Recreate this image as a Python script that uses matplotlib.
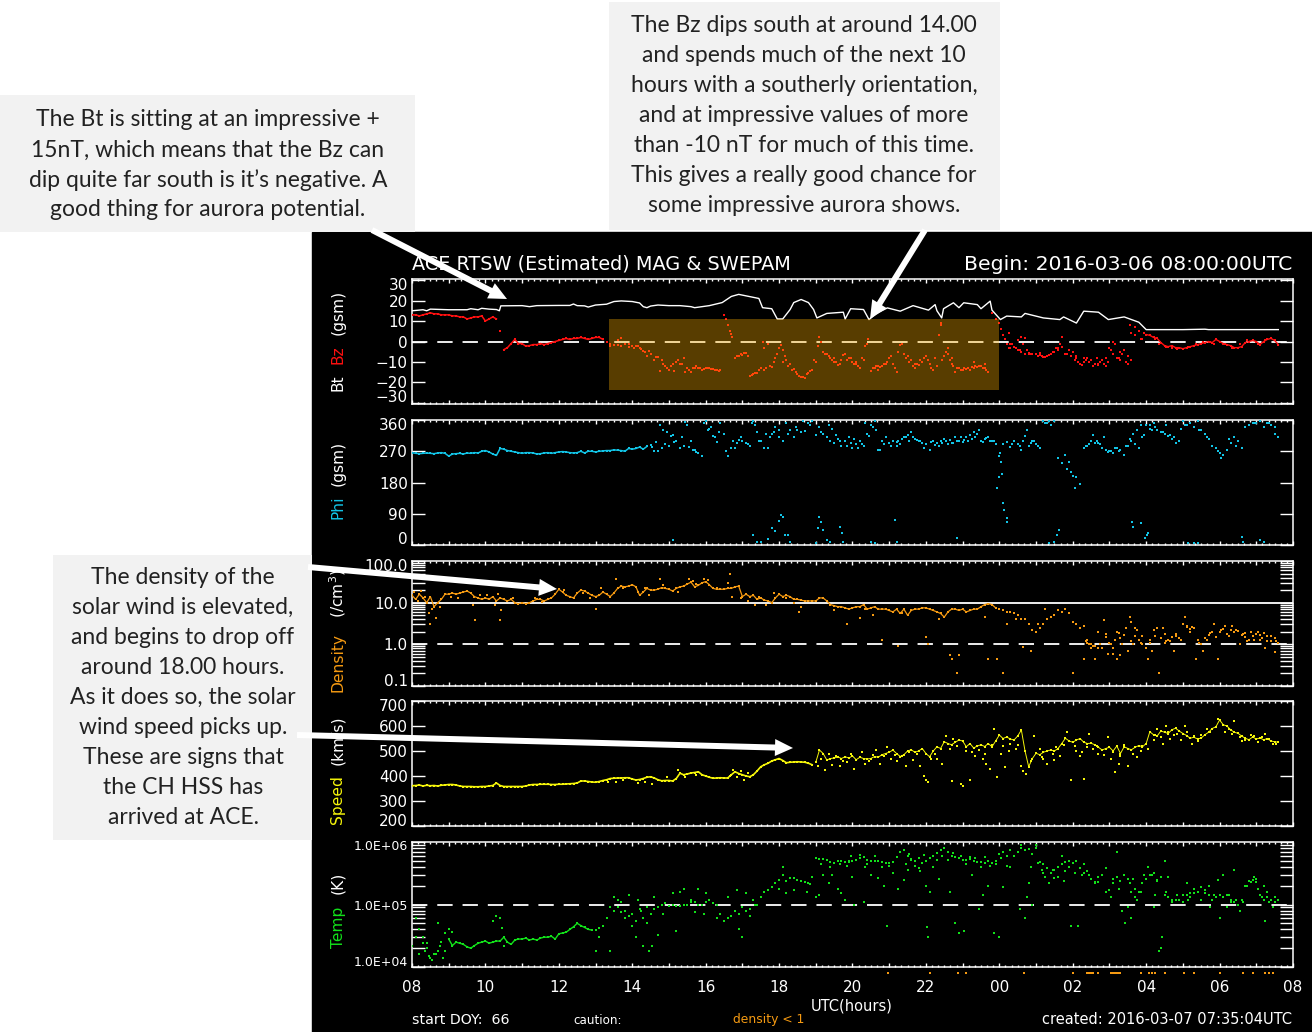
import numpy as np
import matplotlib
matplotlib.use('Agg')
import matplotlib.pyplot as plt
from matplotlib.patches import Rectangle, FancyArrow
from matplotlib.ticker import NullFormatter
from matplotlib.transforms import ScaledTranslation

W, H = 1312, 1032

# hand read values, 6 minute cadence from 08:00 (hours run on past 24)
bt_t = [8, 8.3, 8.4, 8.5, 9, 9.5, 9.6, 9.8, 9.9, 10, 10.1, 10.3, 10.38, 10.42, 11, 11.2, 11.4, 12, 12.3, 12.4, 12.5, 12.7, 12.8,
        13, 13.3, 13.5, 13.7, 14, 14.2, 14.3, 14.4, 14.5, 14.7, 15, 15.3, 15.6, 15.7, 15.9, 16.1, 16.45, 16.7, 16.9, 17.45,
        17.55, 17.8, 17.95, 18.1, 18.3, 18.4, 18.6, 18.8, 18.94, 19.03, 19.3, 19.75, 19.8, 19.95, 20.3, 20.45, 20.65, 20.95,
        21.3, 21.65, 22.07, 22.25, 22.3, 22.43, 22.48, 22.75, 22.9, 23.03, 23.4, 23.5, 23.75, 23.8, 24.03, 24.2, 24.6, 24.7,
        25.2, 25.65, 25.75, 26.1, 26.3, 26.7, 26.97, 27.4, 27.8, 28, 29, 29.6, 29.7, 30.5, 31.6]
bt_v = [15, 15.5, 15, 15.8, 15.5, 15.5, 16, 15.5, 16.2, 16, 15.8, 15.6, 15, 17.4, 17.5, 17, 17.5, 17.6, 17.6, 18.3, 17.5, 17.4, 16.8,
        17.8, 18.2, 19.5, 19.8, 19.5, 18.8, 17, 16.5, 17.3, 17.8, 17.5, 17.5, 17, 16.5, 17, 17.5, 19, 22, 23, 21,
        16.5, 16, 11, 11, 15.6, 19, 20.5, 19, 15.6, 11.5, 13.7, 14.3, 11, 16, 15.6, 10.7, 13.7, 16.4,
        14.8, 17.5, 15.3, 18, 15, 11.5, 16, 18.9, 16.5, 18.9, 18, 16, 19.7, 15.3, 10.7, 12.4, 12, 13.7,
        11.5, 10.7, 12, 9, 14.8, 14.3, 10.7, 12, 9.4, 5.8, 5.8, 6, 5.8, 5.8, 5.8]

bz_v = [13, 13, 12.5, 13, 13.5, 14, 13.5, 13.5, 13, 13,
        13, 12.5, 12.5, 12, 12, 11, 11.5, 12, 12, 12.5,
        10, 11, 12, 11, 5, -4, -3, -1, 1, -1,
        -1, -2.3, -2, -1.5, -1.5, -1, -1.5, -1, -0.5, 0,
        0.5, 1, 1.5, 1, 1.5, 1.5, 2, 1.5, 1, 1.5,
        2, 2, 1, 0, -2, -1.5, -1.5, -2, -1, -2.5,
        -2, -2, -3, -4.5, -7, -6, -9, -7.5, -9, -12,
        -14, -11, -10, -11, -8, -13, -15, -13, -13, -14,
        -13, -13, -13.5, -14, -14, 13, 8, 3.5, -8, -7,
        -6.5, -5.5, -17, -16, -15.5, -13, -14, -1, -12.5, -8,
        -3, -10, -9, -11, -13.5, -16, -17.5, -18, -15.5, -14,
        -10, 2, -5, -6, -8, -10, -11.5, -9, -6, -8,
        -10, -11, -13, -9, -1, -14.5, -13, -12, -12, -11,
        -8, -11, -15, -1.5, -6, -7, -9, -11, -11.5, -10,
        -7, -11, -14, -12, 9, -7, -3, -8, -15, -13,
        -14, -13.5, -14, -13, -12.5, -12, -13, -15, 14, 11,
        9, 3, -1, -3, -2.5, -4, -5, -6, -5.5, -6,
        -6, -6.5, -7.5, -7, -6, -5, -3, -2.5, -6, -4,
        -5, -8, -11, -10, -8, -9, -11, -11, -9, -12,
        -3, -6, -8, -9, -4, -7, -9, 7, 5, 1,
        3.4, 3, 2, 1.5, -0.5, -2, -2.5, -2, -3, -3,
        -3.5, -3, -2.5, -2, -1.5, -1, -0.5, 0, -0.5, 1,
        0, -1, -1.5, -2, -3, -3, -2.5, -0.5, 0, 0.5,
        0, -1.5, 0, 1, 1.5, 0.5, -1.5]
bz_dots = [(13.4, -1), (13.6, 0.5), (13.7, 1.5), (13.9, -1), (14.05, -3), (14.15, -2), (14.25, -3.5), (14.35, -5), (14.45, -4.5),
           (14.5, -6), (14.65, -7.5), (14.75, -14.5), (14.85, -11), (14.95, -13), (15.05, -12), (15.15, -14.5), (15.25, -9),
           (15.35, -11), (15.45, -15), (15.55, -14), (15.65, -13), (15.75, -12), (15.85, -13), (15.95, -13.5), (16.05, -13),
           (16.15, -13.5), (16.25, -14), (16.35, -14.5), (16.55, 11), (16.65, 5), (16.72, 2), (16.85, -7), (16.95, -6),
           (17.05, -5.5), (17.15, -7), (17.25, -16.5), (17.35, -15.5), (17.45, -14), (17.55, 0), (17.6, -3), (17.65, -13),
           (17.75, -12), (17.85, -10), (17.95, -6), (18.05, -1.5), (18.1, -4), (18.25, -12), (18.35, -14), (18.45, -15),
           (18.55, -17), (18.75, -16), (18.85, -14.5), (18.95, -9), (19.05, -2), (19.15, 0), (19.25, -6), (19.35, -7),
           (19.45, -9), (19.55, -10), (19.65, -11), (19.75, -6.5), (19.85, -9), (19.95, -8), (20.05, -11), (20.15, -12),
           (20.25, -8), (20.35, -2), (20.42, 1), (20.55, -13), (20.65, -12), (20.75, -12.5), (20.85, -11), (20.95, -10),
           (21.05, -7), (21.15, -13), (21.25, -5), (21.35, -1), (21.45, -8), (21.55, -10), (21.65, -12), (21.75, -11),
           (21.85, -9), (21.95, -8), (22.05, -9), (22.15, -13), (22.25, -8), (22.35, 3), (22.42, 8), (22.45, -9), (22.55, -5),
           (22.65, -9), (22.75, -12), (22.85, -13), (22.95, -14), (23.05, -13), (23.15, -13), (23.25, -12.5), (23.35, -12),
           (23.45, -12), (23.55, -13), (23.65, -14), (24.05, 6), (24.15, 1), (24.25, -3), (24.35, -1), (24.45, -3), (24.55, -4),
           (24.6, 2), (24.65, -1), (24.75, -4), (24.8, -6), (24.85, -6), (25.05, -7), (25.15, -7), (25.25, -7.5), (25.35, -6.5),
           (25.45, -5), (25.55, -3), (25.65, -1), (25.7, 2), (25.85, -6), (25.95, -7), (26.05, -9), (26.15, -10), (26.25, -11.5),
           (26.35, -9), (26.45, -10), (26.55, -12), (26.65, -8), (26.75, -10), (26.85, -11), (26.95, -10), (27.05, -4),
           (27.15, -1), (27.25, -8), (27.35, -6), (27.45, -10), (27.55, 8), (27.6, 4), (27.7, 3), (27.8, 5), (27.85, 1),
           (27.95, 4), (28.25, 1), (28.35, -1), (28.55, -2.5), (28.7, -3), (28.85, -3.5), (29.15, -2.5), (29.35, -1),
           (29.55, 0), (29.75, 0), (29.85, -1), (30.15, -1), (30.35, -3), (30.55, -1), (30.75, 0.5), (31.05, -1), (31.25, 0.5),
           (18.15, -7), (18.65, -17.5), (19.5, -8), (20.1, -10), (20.7, -14), (21.7, -13), (22.6, -6), (22.7, -11),
           (23.3, -10), (23.6, -11), (24.3, -1), (24.5, 0.5), (25.1, -5.5), (25.6, -4), (26.1, -7), (26.3, -8), (26.7, -11.5),
           (26.9, -8), (27.1, 0), (27.3, -5), (27.5, -11), (24.25, 4), (24.7, 1.5)]

phi_v = [266, 264, 263, 264, 265, 264, 263, 265, 266, 264,
         256, 262, 263, 264, 262, 265, 264, 266, 265, 270,
         272, 268, 262, 258, 278, 276, 272, 270, 268, 266,
         264, 266, 266, 265, 262, 263, 265, 266, 264, 266,
         268, 269, 268, 266, 265, 266, 270, 265, 270, 270,
         268, 270, 271, 272, 272, 274, 273, 272, 270, 278,
         276, 278, 282, 276, 284, 288, 270, 272, 280, 290,
         285, 317, 300, 278, 285, 345, 300, 275, 265, 255,
         356, 335, 315, 298, 350, 320, 255, 280, 278, 303,
         300, 295, 285, 356, 325, 300, 280, 279, 320, 340,
         310, 300, 350, 330, 310, 332, 325, 328, 350, 356,
         317, 340, 320, 310, 300, 295, 305, 285, 300, 310,
         280, 290, 300, 285, 320, 345, 356, 275, 300, 310,
         295, 300, 285, 290, 310, 317, 325, 305, 300, 295,
         290, 275, 300, 295, 300, 305, 290, 295, 310, 300,
         296, 310, 318, 325, 320, 300, 305, 310, 300, 290,
         255, 290, 296, 283, 300, 290, 275, 315, 285, 300,
         290, 280, 356, 350, 345, 356, 250, 235, 260, 240,
         200, 195, 175, 280, 285, 300, 293, 295, 280, 275,
         270, 265, 280, 275, 260, 285, 300, 290, 280, 310,
         345, 335, 350, 330, 325, 320, 315, 305, 295, 300,
         356, 345, 350, 340, 356, 330, 320, 305, 285, 280,
         265, 260, 275, 295, 310, 300, 280, 340, 345, 350,
         352, 356, 340, 350, 345, 320, 310]
phi_dots = [(14.55, 283), (14.65, 296), (14.75, 346), (14.85, 332), (14.95, 325), (15.05, 313), (15.15, 298), (15.35, 312), (15.45, 355),
            (15.55, 283), (15.65, 275), (15.75, 268), (15.95, 352), (16.05, 330), (16.15, 340), (16.25, 310), (16.35, 325),
            (16.55, 270), (16.75, 300), (16.85, 295), (16.95, 310), (17.15, 290), (17.25, 352), (17.35, 345), (17.45, 300),
            (17.65, 320), (17.75, 310), (17.85, 325), (18.0, 330), (18.25, 320), (18.45, 340), (18.65, 356), (18.85, 345),
            (19.15, 325), (19.35, 345), (19.45, 335), (19.55, 316), (19.65, 300), (19.85, 285), (19.95, 295), (20.05, 305),
            (20.15, 280), (20.25, 292), (20.35, 350), (20.45, 315), (20.55, 340), (20.65, 330), (20.75, 275), (20.85, 290),
            (21.05, 285), (21.25, 300), (21.45, 310), (21.65, 310), (21.85, 300), (21.95, 280), (22.35, 285), (22.55, 300),
            (22.75, 295), (23.25, 305), (23.45, 330), (23.85, 300), (24.02, 264), (23.98, 197), (23.95, 163), (24.05, 240),
            (24.07, 205), (24.1, 120), (24.14, 100), (24.2, 67), (24.22, 78), (24.75, 330), (24.95, 300), (25.05, 285),
            (25.25, 350), (25.35, 356), (25.85, 220), (25.95, 210), (26.05, 163), (26.55, 318), (26.75, 290), (26.85, 310),
            (27.05, 270), (27.55, 305), (27.65, 320), (27.75, 332), (27.85, 345), (27.95, 318), (28.45, 325), (28.55, 345),
            (28.95, 335), (29.05, 345), (29.45, 330), (29.65, 312), (29.95, 270), (30.05, 250), (30.25, 305), (30.45, 285),
            (30.95, 352), (31.35, 350), (31.5, 340),
            (21.2, 298), (21.35, 305), (21.55, 300), (21.75, 303), (22.15, 296), (22.25, 288), (22.45, 293), (22.65, 303),
            (22.85, 300), (22.95, 310), (23.05, 302), (23.15, 300), (23.35, 312), (23.55, 296), (23.65, 308), (23.75, 300),
            (24.35, 290), (24.55, 285), (24.65, 300), (24.85, 295), (26.35, 285), (26.45, 292), (26.65, 300), (26.95, 268),
            (27.15, 278), (27.25, 272), (27.45, 285), (28.1, 345), (28.15, 330), (28.25, 340), (28.65, 318), (28.75, 312),
            (15.1, 14), (17.3, 28), (17.4, 10), (17.5, 10), (17.7, 18), (17.8, 50), (17.9, 40), (18.0, 70), (18.05, 86),
            (18.1, 80), (18.15, 30), (18.25, 30), (18.3, 8), (19.0, 5), (19.05, 48), (19.1, 82), (19.15, 65), (19.2, 42),
            (19.3, 15), (19.4, 10), (19.65, 52), (19.72, 35), (19.75, 10), (20.5, 8), (20.6, 5), (21.15, 72), (21.2, 10),
            (22.85, 20), (25.35, 5), (25.5, 10), (25.58, 28), (25.62, 42), (27.62, 67), (27.65, 52), (27.85, 62), (28.05, 34),
            (27.98, 20), (28.02, 28), (29.15, 5), (29.3, 5), (29.4, 6), (30.6, 22), (30.65, 8), (31.1, 14), (31.2, 8)]

density_v = [15, 12, 16, 13, 10, 14, 8, 10, 12, 16,
             16, 17, 16, 17, 18, 19, 17, 14, 13, 12,
             13, 12, 14, 11, 13, 12, 11, 12, 10, 9.5,
             10, 9.5, 10, 11, 12, 12, 11, 12, 13, 16,
             21, 18, 15, 14, 13, 17, 20, 19, 17, 15,
             14, 15, 18, 16, 14, 17, 22, 25, 24, 25,
             27, 24, 15, 18, 22, 20, 20, 21, 23, 22,
             21, 19, 22, 24, 25, 28, 31, 24, 26, 30,
             32, 27, 22, 21, 21, 21, 22, 22, 24, 25,
             14, 16, 14, 15, 12, 13, 11.5, 11, 10, 13,
             16, 14, 15, 14, 12, 12, 11.5, 11, 11, 11,
             11, 13, 13, 11, 9, 8.5, 8, 8, 7.5, 7,
             7.5, 8, 8, 9, 7, 7.5, 8, 7, 7, 7,
             6.5, 6, 7, 5.5, 7, 5, 6.5, 7, 7, 7.5,
             7.5, 7, 6.5, 6, 5.5, 4.5, 6, 7, 7, 6.5,
             7, 6, 6.5, 7, 7, 8, 9, 9.5, 9, 7.5,
             7, 6.5, 6, 6, 5.5, 5, 4, 4, 3, 2.2,
             2, 2.5, 3, 4, 4.5, 5, 6.5, 6, 7, 5.5,
             3.5, 3, 2.5, 2.8, 1.1, 1, 0.9, 2, 0.8, 1.5,
             1.1, 0.8, 2, 1.4, 1.7, 0.7, 1.2, 2.5, 1.3, 1,
             0.8, 1.1, 2.2, 2.5, 1.4, 1.1, 1.3, 1.5, 1.8, 1.4,
             3, 2.6, 2.3, 2.4, 1.3, 1, 1.4, 1.7, 2, 1.5,
             2, 2.3, 1.8, 2.2, 2, 2.1, 1.7, 1.9, 1.3, 1.6,
             1.8, 1.3, 1.9, 1.6, 1.2, 1.4, 1.1]
density_dots = [(8.05, 18), (8.15, 11), (8.25, 19), (8.35, 14), (8.45, 5.5), (8.5, 3.1), (8.55, 7), (8.65, 4.4), (8.75, 8), (9.05, 14),
                (9.25, 13), (9.65, 9), (9.72, 3.8), (9.85, 15), (10.05, 15), (10.25, 9), (10.35, 16), (10.4, 3.8), (10.42, 6.5),
                (10.75, 13), (11.35, 13), (11.55, 10.5), (12.15, 20), (12.65, 17), (12.85, 13), (13.0, 6.9), (13.15, 22),
                (13.55, 36), (13.75, 22), (14.15, 18), (14.35, 23), (14.45, 15), (14.75, 38), (14.85, 26), (15.25, 18), (15.55, 36),
                (15.65, 33), (15.75, 28), (15.95, 36), (16.05, 35), (16.3, 23), (16.6, 30), (16.65, 50), (16.72, 14), (16.95, 13),
                (17.15, 11), (17.35, 9), (17.45, 14), (17.65, 9), (17.85, 17), (18.2, 13), (18.4, 10), (18.55, 6), (18.6, 8),
                (19.5, 6.5), (19.85, 3), (20.2, 4.2), (20.35, 7), (20.55, 5), (20.8, 1.3), (21.25, 0.9), (21.35, 5.5), (22.0, 1.5),
                (22.05, 1), (22.35, 4), (22.65, 0.55), (22.7, 0.45), (22.9, 0.55), (22.85, 0.2), (23.6, 4.5), (23.7, 0.45),
                (23.95, 0.45), (24.1, 0.2), (24.2, 3), (24.45, 4), (24.65, 0.85), (24.85, 0.7), (25.05, 3), (25.25, 7),
                (26, 0.2), (26.1, 3), (26.3, 0.45), (26.4, 1.3), (26.5, 0.8), (26.6, 0.45), (26.7, 0.8), (26.85, 3.9), (26.95, 0.6),
                (27.1, 0.6), (27.2, 0.45), (27.3, 0.55), (27.45, 2.5), (27.55, 4.5), (27.6, 3.4), (27.75, 2.2), (27.9, 1.6), (28.05, 0.45),
                (28.15, 0.7), (28.35, 0.2), (28.45, 2.5), (28.55, 1.2), (28.75, 0.7), (29.0, 3), (29.05, 4.6), (29.2, 2),
                (29.35, 0.45), (29.55, 0.7), (29.85, 3), (29.95, 0.45), (30.05, 2.2), (30.15, 2.8), (30.35, 2.8), (30.55, 1),
                (30.65, 1.8), (30.75, 1.2), (30.85, 2), (31.05, 2), (31.15, 1.4), (31.25, 0.8), (31.5, 0.65),
                (26.35, 1.2), (26.45, 1), (26.55, 0.9), (26.75, 1), (26.9, 1.8), (27.05, 1), (27.15, 1.3), (27.25, 1.9), (27.35, 1),
                (27.65, 1), (27.7, 1.6), (27.85, 1.1), (28.1, 1.3), (28.25, 1.6), (28.3, 2.4), (28.5, 1.8), (28.65, 1.2), (28.8, 1.6),
                (28.95, 1.3), (29.1, 2.8), (29.25, 2.6), (29.45, 1.1), (29.65, 1.3), (29.75, 1.9), (30.25, 1.6), (30.45, 2.2),
                (30.7, 1.5), (30.95, 1.3), (31.1, 1.7), (31.3, 1.2), (31.4, 1.6), (31.55, 1.2)]

speed_v = [361, 362, 364, 360, 363, 361, 362, 360, 363, 364,
           366, 366, 364, 360, 358, 358, 358, 357, 357, 358,
           358, 360, 362, 372, 362, 358, 358, 358, 358, 358,
           358, 360, 364, 366, 366, 367, 367, 367, 366, 366,
           367, 367, 368, 369, 370, 372, 380, 380, 378, 376,
           375, 378, 382, 385, 390, 391, 392, 392, 393, 393,
           388, 384, 386, 390, 395, 397, 392, 385, 381, 382,
           382, 380, 390, 411, 405, 408, 412, 414, 417, 405,
           400, 395, 391, 392, 393, 392, 392, 405, 417, 410,
           405, 400, 397, 405, 420, 437, 445, 451, 460, 465,
           470, 462, 453, 455, 456, 457, 456, 455, 451, 445,
           455, 504, 490, 464, 470, 472, 476, 470, 477, 472,
           480, 465, 475, 470, 468, 470, 478, 475, 485, 490,
           495, 504, 490, 478, 485, 500, 505, 495, 500, 510,
           490, 477, 500, 517, 510, 537, 530, 525, 535, 544,
           540, 517, 530, 512, 520, 525, 518, 530, 517, 540,
           564, 550, 556, 548, 544, 560, 584, 500, 437, 470,
           491, 485, 495, 500, 504, 500, 510, 530, 551, 540,
           535, 544, 550, 535, 530, 531, 525, 515, 504, 510,
           515, 500, 520, 490, 517, 510, 505, 515, 522, 517,
           530, 577, 565, 560, 580, 575, 570, 585, 591, 580,
           570, 562, 551, 555, 548, 552, 565, 575, 590, 597,
           624, 605, 600, 585, 575, 571, 560, 551, 545, 556,
           548, 552, 545, 550, 540, 537, 535]
speed_dots = [(13.35, 375), (13.55, 378), (13.75, 385), (14.15, 372), (14.35, 378), (14.55, 370), (14.95, 395), (15.25, 425), (15.45, 395),
              (15.75, 405), (16.65, 400), (16.75, 425), (16.85, 395), (16.95, 420), (17.05, 385), (17.15, 412),
              (19.05, 440), (19.15, 470), (19.25, 425), (19.45, 445), (19.55, 480), (19.65, 440), (19.85, 455), (19.95, 490),
              (20.05, 430), (20.25, 495), (20.45, 460), (20.55, 485), (20.65, 505), (20.75, 450), (20.95, 515), (21.05, 470),
              (21.2, 460), (21.35, 480), (21.45, 440), (21.55, 495), (21.85, 440), (21.95, 400), (22.0, 385), (22.05, 375),
              (22.3, 470), (22.45, 450), (22.55, 560), (22.7, 380), (22.75, 550), (22.95, 370), (23.0, 360), (23.2, 385),
              (23.35, 480), (23.55, 470), (23.65, 450), (23.75, 430), (23.85, 590), (23.95, 395), (24.05, 490), (24.15, 435),
              (24.25, 500), (24.45, 510), (24.6, 440), (24.65, 420), (24.72, 410), (24.85, 460), (24.95, 560), (25.1, 510),
              (25.2, 470), (25.3, 450), (25.5, 465), (25.65, 480), (25.85, 575), (25.95, 385), (26.1, 500), (26.2, 480),
              (26.3, 390), (26.45, 570), (26.7, 490), (26.95, 555), (27.05, 470), (27.15, 415), (27.25, 450), (27.5, 440),
              (27.65, 490), (27.85, 500), (28.2, 545), (28.3, 590), (28.45, 530), (28.55, 600), (28.65, 550), (28.85, 570),
              (29.05, 600), (29.25, 530), (29.4, 540), (29.65, 590), (29.95, 630), (30.15, 575), (30.4, 620), (30.6, 540),
              (30.85, 565), (31.05, 535), (31.25, 570), (31.45, 530),
              (19.35, 490), (19.75, 462), (20.35, 448), (20.85, 480), (21.15, 485), (21.65, 465), (21.75, 490), (22.15, 470), (22.25, 490),
              (22.65, 510), (22.85, 520), (23.1, 500), (23.25, 495), (23.45, 505), (23.6, 490), (23.8, 525), (24.1, 520), (24.3, 530),
              (24.5, 525), (25.15, 475), (25.45, 490), (25.55, 515), (25.75, 525), (26.05, 520), (26.25, 495), (26.4, 515),
              (26.55, 510), (26.65, 520), (26.85, 485), (27.1, 495), (27.3, 480), (27.4, 525), (27.6, 505), (27.75, 475),
              (27.9, 520), (28.05, 510), (28.25, 565), (28.4, 555), (28.6, 575), (28.75, 565), (28.95, 545), (29.1, 575),
              (29.3, 560), (29.5, 565), (29.75, 575), (30.25, 590), (30.35, 570), (30.55, 555), (30.7, 545), (30.95, 560),
              (31.15, 555), (31.35, 548), (31.55, 530)]

# temperature in units of 1e4 K
temp_v = [2.2, 3, 1.6, 2.4, 2, 1.4, 1.6, 1.8, 2.5, 1.8,
          2.8, 2.2, 2.5, 2.4, 2.3, 2.1, 2.0, 2.2, 2.4, 2.5,
          2.6, 2.4, 2.5, 2.6, 2.6, 3, 2.5, 2.3, 2.7, 2.8,
          2.8, 2.9, 2.7, 2.8, 2.7, 2.9, 3, 3, 3.1, 2.8,
          3.4, 3.5, 3.6, 4, 4.4, 5, 4.6, 4.3, 4, 3.9,
          3.9, 4.2, 4.6, 6, 9, 8, 9, 7.5, 8, 6.5,
          7, 5.5, 8.5, 6, 9, 7, 8.5, 9, 10, 10.5,
          9.5, 10, 9.5, 9.5, 10, 10, 12, 11, 10, 10,
          11, 12, 10.5, 10, 7, 5.5, 6, 6.5, 8, 7,
          9, 8, 8.5, 12, 10, 13, 16, 17, 19, 22,
          25, 30, 24, 27, 27, 25, 24, 23, 22, 28,
          56, 54, 53, 51, 48, 46, 49, 50, 48, 50,
          50, 52, 56, 58, 52, 50, 50, 49, 48, 46,
          46, 48, 58, 70, 75, 60, 54, 50, 55, 46,
          50, 55, 60, 52, 75, 80, 70, 60, 58, 55,
          52, 52, 54, 50, 48, 48, 46, 50, 46, 50,
          65, 70, 60, 75, 60, 70, 80, 75, 78, 65,
          80, 48, 45, 38, 32, 36, 40, 45, 48, 50,
          46, 49, 38, 32, 34, 26, 22, 23, 30, 38,
          17, 22, 28, 24, 30, 26, 16, 13, 16, 22,
          26, 30, 32, 25, 28, 14, 13, 12, 12, 12,
          11, 14, 13, 15, 16, 19, 15, 14, 12, 13,
          14, 13, 14, 12, 11, 10, 12, 20, 24, 25,
          23, 14, 12, 13, 12, 13, 12]
temp_dots = [(8.1, 6), (8.2, 4), (8.3, 3), (8.35, 1.8), (8.4, 2.4), (8.45, 1.5), (8.55, 1.3), (8.65, 1.6), (8.7, 5), (8.75, 2.2), (8.85, 1.4),
             (8.9, 3.5), (9.0, 4), (9.1, 3.6), (10.2, 5.5), (10.3, 6.5), (10.4, 6), (10.45, 4.2), (10.5, 2.2), (13.0, 1.8), (13.1, 3),
             (13.4, 1.8), (13.5, 13), (13.6, 12), (13.7, 11), (13.8, 6), (13.9, 14), (14.0, 4.5), (14.1, 3), (14.15, 12), (14.25, 8),
             (14.3, 2.2), (14.4, 5), (14.45, 1.8), (14.55, 2.2), (14.6, 13), (14.7, 3.2), (14.85, 7), (15.1, 15), (15.2, 3.8),
             (15.3, 16), (15.4, 18), (15.6, 11), (15.7, 7.5), (15.8, 18), (15.95, 7), (16.0, 15), (16.3, 6), (16.6, 13), (16.85, 17),
             (16.9, 4), (17.0, 3), (17.1, 15), (17.2, 6.5), (17.35, 10), (18.0, 18), (18.1, 40), (18.2, 15), (18.4, 17),
             (18.75, 16), (18.85, 21), (19.0, 13), (19.1, 14), (19.2, 30), (19.35, 22), (19.45, 30), (19.6, 18), (19.7, 15),
             (19.8, 12), (19.85, 42), (19.9, 48), (20.0, 28), (20.05, 10), (20.3, 11), (20.4, 45), (20.5, 30), (20.7, 27), (20.85, 20),
             (20.95, 4.6), (21.1, 32), (21.25, 18), (21.4, 25), (21.5, 36), (21.7, 42), (21.85, 34), (22.0, 20), (22.02, 4.4), (22.05, 3),
             (22.1, 16), (22.35, 26), (22.5, 80), (22.65, 16), (22.8, 5), (22.9, 3.5), (23.05, 3.8), (23.25, 30), (23.45, 8.5),
             (23.55, 14), (23.7, 20), (23.85, 3.5), (24.0, 3), (24.1, 19), (24.3, 40), (24.55, 8.5), (24.7, 6), (24.75, 13), (24.8, 22),
             (24.9, 10), (25.05, 46), (25.2, 32), (25.35, 22), (25.5, 27), (25.7, 60), (25.8, 34), (25.95, 4.5), (26.15, 4.6), (26.3, 44),
             (26.6, 23), (26.9, 16), (27.05, 13), (27.2, 70), (27.35, 8), (27.42, 5), (27.5, 9), (27.6, 6), (27.65, 26), (27.75, 12),
             (27.95, 30), (28.05, 40), (28.2, 9), (28.25, 14), (28.35, 1.8), (28.4, 2), (28.42, 3), (28.5, 50), (28.6, 28), (28.8, 12),
             (29.0, 14), (29.1, 22), (29.3, 18), (29.6, 17), (29.75, 9), (29.95, 25), (30.0, 6), (30.1, 30), (30.2, 9), (30.3, 11),
             (30.4, 36), (30.55, 8), (30.75, 20), (30.95, 28), (31.05, 18), (31.2, 20), (31.25, 5.5), (31.35, 11), (31.45, 9),
             (19.15, 44), (19.4, 40), (19.65, 44), (19.95, 60), (20.2, 62), (20.35, 40), (20.6, 60), (20.8, 40), (21.0, 42), (21.2, 58),
             (21.45, 44), (21.55, 65), (21.6, 52), (21.8, 38), (21.95, 62), (22.2, 40), (22.3, 66), (22.45, 60), (22.6, 52), (22.75, 66),
             (22.95, 60), (23.1, 44), (23.2, 58), (23.35, 56), (23.5, 40), (23.6, 58), (23.75, 42), (23.9, 44), (24.05, 56), (24.2, 42),
             (24.4, 60), (24.6, 90), (24.85, 40), (25.0, 90), (25.15, 36), (25.25, 28), (25.45, 36), (25.6, 28), (25.75, 24), (25.9, 40),
             (26.05, 32), (26.25, 30), (26.45, 30), (26.7, 28), (27.1, 26), (27.25, 18), (27.55, 22), (27.7, 18), (27.85, 16), (28.15, 30),
             (28.3, 24), (28.55, 16), (28.7, 11), (28.85, 14), (29.15, 12), (29.2, 15), (29.4, 16), (29.5, 12), (29.7, 20), (29.85, 14),
             (30.25, 14), (30.45, 12), (30.65, 11), (30.85, 23), (31.0, 26), (31.15, 13), (31.3, 16), (31.5, 11)]

# hours flagged with density below 1, strip under the last panel
low_density_hours = [20.98, 22.1, 22.88, 23.1, 24.66, 26.02, 26.4, 26.43, 26.46, 26.49, 26.52, 26.55, 26.7,
                     27.05, 27.08, 27.11, 27.14, 27.17, 27.2, 27.23, 27.26, 27.29, 27.85, 28.07, 28.16, 28.25,
                     28.5, 29.03, 29.3, 30.0, 30.63, 30.9, 31.25, 31.35, 31.45]

hour_labels = ['08', '', '10', '', '12', '', '14', '', '16', '', '18', '', '20', '', '22', '', '00', '', '02', '', '04', '', '06', '', '08']

note_bt = ['The Bt is sitting at an impressive +', '15nT, which means that the Bz can',
           'dip quite far south is it\u2019s negative. A', 'good thing for aurora potential.']
note_bz = ['The Bz dips south at around 14.00', 'and spends much of the next 10', 'hours with a southerly orientation,',
           'and at impressive values of more', 'than -10 nT for much of this time.', 'This gives a really good chance for',
           'some impressive aurora shows.']
note_density = ['The density of the', 'solar wind is elevated,', 'and begins to drop off', 'around 18.00 hours.',
                'As it does so, the solar', 'wind speed picks up.', 'These are signs that', 'the CH HSS has', 'arrived at ACE.']

FG = 'white'
IDL_FONT = 'DejaVu Sans'
ORANGE = '#f59a12'


def split_dots(dots):
    arr = np.array(dots, dtype=float)
    return arr[:, 0], arr[:, 1]


def hours(values):
    return 8 + 0.1 * np.arange(len(values))


def dots(ax, t, v, color, ms=2.3):
    ax.plot(t, v, ls='', marker='s', ms=ms * 0.72, mew=0, color=color, zorder=3)


def panel(top, bottom, yscale, ylim, ticks, labels, minor=None, label_size=11):
    ax = fig.add_axes([412 / W, 1 - bottom / H, 881 / W, (bottom - top) / H], facecolor='black')
    ax.set_yscale(yscale)
    ax.set_xlim(8, 32)
    ax.set_ylim(*ylim)
    ax.set_xticks(np.arange(8, 33, 1))
    ax.set_xticks(np.arange(8, 32.01, 1 / 6), minor=True)
    ax.set_xticklabels([])
    ax.set_yticks(ticks)
    ax.set_yticklabels(labels, family=IDL_FONT, fontsize=label_size, color=FG)
    ax.yaxis.set_minor_formatter(NullFormatter())
    if minor is not None:
        ax.set_yticks(minor, minor=True)
    else:
        ax.set_yticks([], minor=True)
    ax.tick_params(axis='x', which='major', direction='in', length=2.6, width=1, color=FG, top=True, bottom=True)
    ax.tick_params(axis='x', which='minor', direction='in', length=1.3, width=1, color=FG, top=True, bottom=True)
    ax.tick_params(axis='y', which='both', direction='in', length=9.4, width=1, color=FG, left=True, right=True, pad=3)
    # end labels sit just inside the frame
    low, high = ax.get_yticklabels()[0], ax.get_yticklabels()[-1]
    low.set_va('bottom')
    high.set_va('top')
    low.set_transform(low.get_transform() + ScaledTranslation(0, -2.5 / 100, fig.dpi_scale_trans))
    high.set_transform(high.get_transform() + ScaledTranslation(0, 2 / 100, fig.dpi_scale_trans))
    for s in ax.spines.values():
        s.set_color(FG)
        s.set_linewidth(1.1)
    return ax


fig = plt.figure(figsize=(W / 100, H / 100), dpi=100, facecolor='white')
fig.patches.append(Rectangle((312 / W, 0), 1000 / W, 800 / H, transform=fig.transFigure, color='black', zorder=-5))

dash = (0, (8.5, 5.5))

# Bt / Bz
ax1 = panel(279, 404, 'linear', (-30.5, 30.5), [-30, -20, -10, 0, 10, 20, 30], ['\u221230', '\u221220', '\u221210', '0', '10', '20', '30'])
ax1.axhline(0, color=FG, lw=1.3, ls=dash, zorder=2)
ax1.plot(bt_t, bt_v, color=FG, lw=1.0, zorder=3)
bz_t = hours(bz_v)
dots(ax1, bz_t, bz_v, '#ff1010')
dots(ax1, *split_dots(bz_dots), '#ff1010')
ax1.plot(bz_t[:24], bz_v[:24], color='#ff1010', lw=1.1, zorder=3)
ax1.plot(bz_t[25:53], bz_v[25:53], color='#ff1010', lw=1.1, zorder=3)
ax1.plot(bz_t[200:], bz_v[200:], color='#ff1010', lw=1.0, zorder=3)
ax1.add_patch(Rectangle((13.37, -23.7), 10.63, 34.6, facecolor='#ffb000', alpha=0.35, lw=0, zorder=5))

# Phi
ax2 = panel(420, 545, 'linear', (0, 360), [0, 90, 180, 270, 360], ['0', '90', '180', '270', '360'])
phi_t = hours(phi_v)
dots(ax2, phi_t, phi_v, '#12c4e6')
dots(ax2, *split_dots(phi_dots), '#12c4e6')
ax2.plot(phi_t[:65], phi_v[:65], color='#12c4e6', lw=1.1, zorder=3)

# density
dens_minor = np.outer([0.1, 1, 10], np.arange(2, 10)).ravel()
ax3 = panel(561, 686, 'log', (0.1, 100), [0.1, 1, 10, 100], ['0.1', '1.0', '10.0', '100.0'], minor=dens_minor)
ax3.axhline(1, color=FG, lw=1.3, ls=dash, zorder=2)
ax3.axhline(10, color=FG, lw=1.3, zorder=2)
dens_t = hours(density_v)
dots(ax3, dens_t, density_v, ORANGE)
dots(ax3, *split_dots(density_dots), ORANGE)
ax3.plot(dens_t[:160], density_v[:160], color=ORANGE, lw=0.9, zorder=3)

# speed
ax4 = panel(701, 826, 'linear', (200, 700), [200, 300, 400, 500, 600, 700], ['200', '300', '400', '500', '600', '700'])
speed_t = hours(speed_v)
dots(ax4, speed_t, speed_v, '#f5f50a')
dots(ax4, *split_dots(speed_dots), '#f5f50a')
ax4.plot(speed_t[:110], speed_v[:110], color='#f5f50a', lw=1.2, zorder=3)
ax4.plot(speed_t[110:], speed_v[110:], color='#f5f50a', lw=0.7, zorder=3)

# temperature
temp_minor = np.outer([1e4, 1e5], np.arange(2, 10)).ravel()
ax5 = panel(842, 967, 'log', (1e4, 1e6), [1e4, 1e5, 1e6], ['1.0E+04', '1.0E+05', '1.0E+06'], minor=temp_minor, label_size=9)
ax5.axhline(1e5, color=FG, lw=1.3, ls=dash, zorder=2)
temp_t = hours(temp_v)
temp_vals = np.array(temp_v) * 1e4
dots(ax5, temp_t, temp_vals, '#12e01a')
td_t, td_v = split_dots(temp_dots)
dots(ax5, td_t, td_v * 1e4, '#12e01a')
ax5.plot(temp_t[10:50], temp_vals[10:50], color='#12e01a', lw=1.0, zorder=3)
ax5.set_xticklabels(hour_labels, family=IDL_FONT, fontsize=11, color=FG)
ax5.tick_params(axis='x', which='major', pad=9)
ax5.plot(low_density_hours, [0.8e4] * len(low_density_hours), ls='', marker='s', ms=1.6, mew=0, color=ORANGE, clip_on=False)

# overlay in pixel coords for text, notes and arrows
ov = fig.add_axes([0, 0, 1, 1], facecolor='none')
ov.set_xlim(0, W)
ov.set_ylim(H, 0)
ov.axis('off')
ov.set_zorder(10)

ov.text(412, 264, 'ACE RTSW (Estimated) MAG & SWEPAM', color=FG, family=IDL_FONT, fontsize=13.9, va='center', ha='left')
ov.text(1292, 264, 'Begin: 2016-03-06 08:00:00UTC', color=FG, family=IDL_FONT, fontsize=14.7, va='center', ha='right')
ov.text(852, 1006, 'UTC(hours)', color=FG, family=IDL_FONT, fontsize=10.5, va='center', ha='center')
ov.text(412, 1020, 'start DOY:  66', color=FG, family=IDL_FONT, fontsize=10.2, va='center')
ov.text(573, 1020, 'caution:', color=FG, family=IDL_FONT, fontsize=8.6, va='center')
ov.text(733, 1020, 'density < 1', color=ORANGE, family=IDL_FONT, fontsize=8.9, va='center')
ov.text(1292, 1020, 'created: 2016-03-07 07:35:04UTC', color=FG, family=IDL_FONT, fontsize=10.5, va='center', ha='right')

ylabels = [('Bt', 383, FG), ('Bz', 355, '#ff1010'), ('(gsm)', 312, FG),
           ('Phi', 507, '#12c4e6'), ('(gsm)', 463, FG),
           ('Density', 662, ORANGE), ('(/cm$^3$)', 593, FG),
           ('Speed', 800, '#f5f50a'), ('(km/s)', 740, FG),
           ('Temp', 927, '#12e01a'), ('(K)', 883, FG)]
for txt, y, c in ylabels:
    ov.text(338, y, txt, color=c, family=IDL_FONT, fontsize=11.2, rotation=90, va='center', ha='center')

# grey note boxes
for x0, y0, x1, y1, lines, first, cx in [(0, 95, 415, 232, note_bt, 120, 208),
                                         (609, 2, 1000, 230, note_bz, 25, 804),
                                         (53, 555, 312, 840, note_density, 577, 183)]:
    ov.add_patch(Rectangle((x0, y0), x1 - x0, y1 - y0, facecolor='#f2f2f2', lw=0, zorder=6))
    for i, line in enumerate(lines):
        ov.text(cx, first + 30 * i, line, color='#222222', family='Lato', fontsize=16.5, ha='center', va='center', zorder=7)

# white arrows
for x0, y0, x1, y1 in [(372, 230, 507, 299), (925, 230, 870, 319), (308, 567, 557, 589), (297, 735, 793, 748)]:
    ov.add_patch(FancyArrow(x0, y0, x1 - x0, y1 - y0, width=6, head_width=17, head_length=18,
                            length_includes_head=True, facecolor='white', edgecolor='white', lw=0, zorder=8))

fig.savefig('out.png', dpi=100, facecolor='white')
